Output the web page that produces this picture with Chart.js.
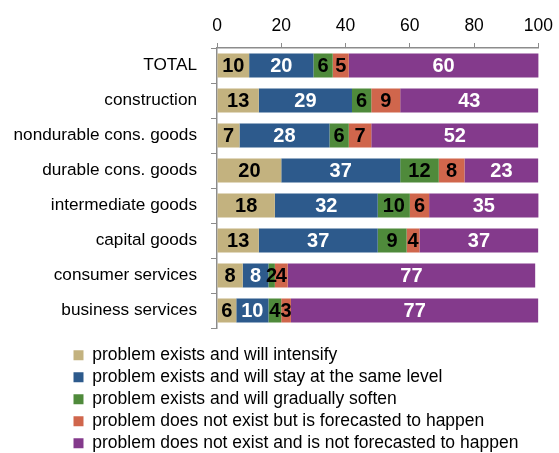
<!DOCTYPE html>
<html>
<head>
<meta charset="utf-8">
<script src="https://cdn.jsdelivr.net/npm/chart.js@4/dist/chart.umd.min.js"></script>
<style>
  html, body { margin: 0; padding: 0; background: #fff; }
  #wrap { width: 559px; height: 453px; position: relative; }
</style>
</head>
<body>
<div id="wrap"><canvas id="c" width="559" height="453"></canvas></div>
<script>
// Sectors surveyed
const categories = [
  'TOTAL',
  'construction',
  'nondurable cons. goods',
  'durable cons. goods',
  'intermediate goods',
  'capital goods',
  'consumer services',
  'business services'
];

// Share of answers (%), one array per answer option
const intensify      = [10, 13,  7, 20, 18, 13,  8,  6];
const sameLevel      = [20, 29, 28, 37, 32, 37,  8, 10];
const soften         = [ 6,  6,  6, 12, 10,  9,  2,  4];
const forecasted     = [ 5,  9,  7,  8,  6,  4,  4,  3];
const notForecasted  = [60, 43, 52, 23, 35, 37, 77, 77];

const seriesNames = [
  'problem exists and will intensify',
  'problem exists and will stay at the same level',
  'problem exists and will gradually soften',
  'problem does not exist but is forecasted to happen',
  'problem does not exist and is not forecasted to happen'
];

const xTicks = [0, 20, 40, 60, 80, 100];

const FONT = "'Liberation Sans', Arial, sans-serif";

const seriesColors = ['#C3B27F', '#2D5A8C', '#4F8A3B', '#D0664C', '#843A8C'];
const labelColors  = ['#000000', '#FFFFFF', '#000000', '#000000', '#FFFFFF'];
const seriesValues = [intensify, sameLevel, soften, forecasted, notForecasted];

// Value labels centred in each bar segment
const segmentLabels = {
  id: 'segmentLabels',
  afterDatasetsDraw(chart) {
    const ctx = chart.ctx;
    ctx.save();
    ctx.font = "bold 20px " + FONT;
    ctx.textAlign = 'center';
    ctx.textBaseline = 'middle';
    chart.data.datasets.forEach((ds, di) => {
      const meta = chart.getDatasetMeta(di);
      ctx.fillStyle = labelColors[di];
      meta.data.forEach((el, i) => {
        const right = Math.min(el.x, chart.chartArea.right);
        const cx = (right + el.base) / 2;
        ctx.fillText(String(ds.data[i]), cx, el.y + 1);
      });
    });
    ctx.restore();
  }
};

// Indent the stacked legend block under the plot
const legendPlacement = {
  id: 'legendPlacement',
  afterLayout(chart) {
    const lg = chart.legend;
    if (!lg) return;
    lg.left = 69;
    lg.top += 14;
    lg.bottom += 14;
  }
};

new Chart(document.getElementById('c'), {
  type: 'bar',
  data: {
    labels: categories,
    datasets: seriesValues.map((vals, i) => ({
      label: seriesNames[i],
      data: vals,
      backgroundColor: seriesColors[i],
      borderWidth: 0,
      barPercentage: 0.69,
      categoryPercentage: 1.0
    }))
  },
  options: {
    indexAxis: 'y',
    responsive: false,
    animation: false,
    layout: { padding: { top: 0, right: 16, bottom: 5, left: 0 } },
    scales: {
      x: {
        position: 'top',
        stacked: true,
        min: 0,
        max: 100,
        afterBuildTicks(scale) {
          scale.ticks = xTicks.map(v => ({ value: v }));
        },
        afterFit(scale) { scale.height = 48; },
        grid: {
          drawOnChartArea: false,
          drawTicks: true,
          tickLength: 5,
          color: '#8c8c8c'
        },
        border: { display: true, color: '#8c8c8c', width: 1.5 },
        ticks: {
          color: '#000',
          padding: 6,
          maxRotation: 0,
          font: { family: FONT, size: 17.5 }
        }
      },
      y: {
        stacked: true,
        afterFit(scale) { scale.width = 217; },
        grid: {
          offset: true,
          drawOnChartArea: false,
          drawTicks: true,
          tickLength: 6,
          color: '#8c8c8c'
        },
        border: { display: true, color: '#8c8c8c', width: 1.5 },
        ticks: {
          color: '#000',
          padding: 14,
          font: { family: FONT, size: 17.2 }
        }
      }
    },
    plugins: {
      tooltip: { enabled: false },
      legend: {
        position: 'bottom',
        align: 'start',
        labels: {
          color: '#000',
          boxWidth: 10,
          boxHeight: 10,
          padding: 4.5,
          font: { family: FONT, size: 17.5 }
        }
      }
    }
  },
  plugins: [segmentLabels, legendPlacement]
});
</script>
</body>
</html>
